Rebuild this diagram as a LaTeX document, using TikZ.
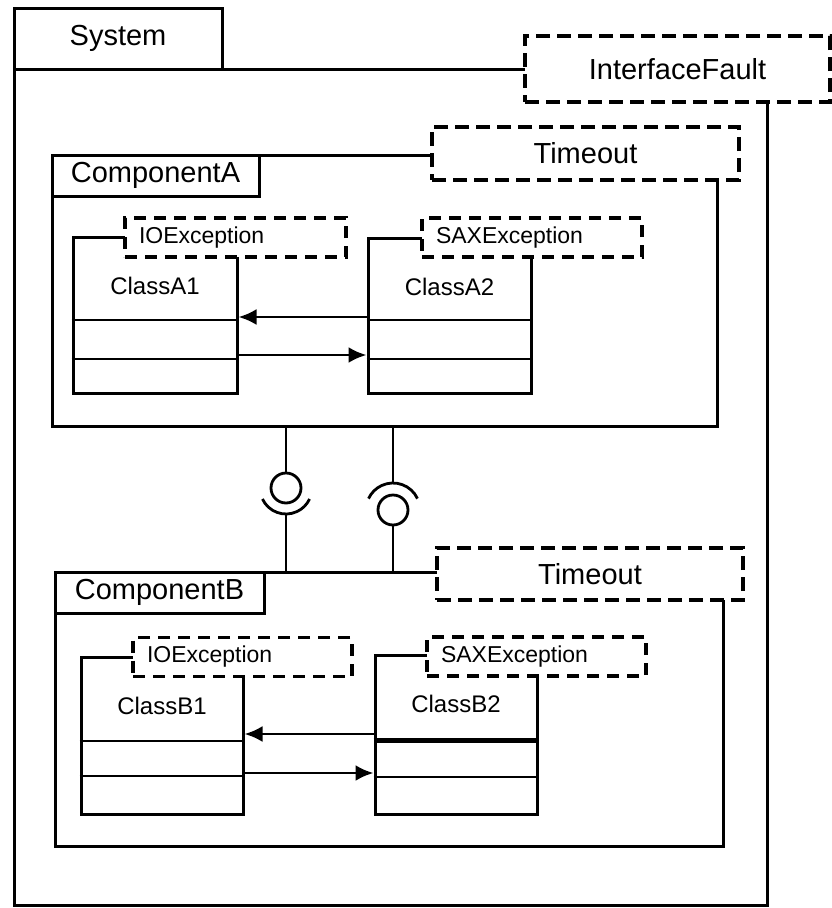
\documentclass[tikz,border=0pt]{standalone}
\usepackage{fontspec}
\setmainfont{Liberation Sans}
\usetikzlibrary{arrows.meta}

\begin{document}
\begin{tikzpicture}[x=1pt,y=1pt,
		caja/.style={draw,line width=3pt,inner sep=0pt},
		pestana/.style={draw,line width=3pt,inner sep=0pt,font=\fontsize{29}{34}\selectfont},
		falla/.style={draw,fill=white,line width=4.6pt,dash pattern=on 14pt off 7pt,inner sep=0pt,font=\fontsize{29}{34}\selectfont},
		excep/.style={draw,fill=white,line width=3.8pt,dash pattern=on 12pt off 8pt,inner xsep=14pt,inner ysep=0pt,text width=#1,align=left,minimum height=39pt,font=\fontsize{23}{27}\selectfont},
		nombre/.style={font=\fontsize{24}{28}\selectfont},
		linea/.style={line width=2.8pt},
		flecha/.style={line width=2.8pt,-{Latex[length=18pt,width=16pt]}},
		bola/.style={draw,circle,line width=2.8pt,minimum size=30pt,inner sep=0pt}]
				\useasboundingbox (0,0) rectangle (832,-908);
				% Sistema
				\node[caja,minimum width=753pt,minimum height=836pt] (sistema) at (390.5,-487) {};
				\node[pestana,minimum width=208pt,minimum height=61pt] (tabSis) at (118,-38.5) {System};
				\node[falla,minimum width=305pt,minimum height=66pt] (ifault) at (677.5,-69) {InterfaceFault};

				% Componente A
				\node[caja,minimum width=665pt,minimum height=271pt] (compA) at (384.5,-290.5) {};
				\node[pestana,minimum width=207pt,minimum height=41pt] (tabA) at (155.5,-175.5) {ComponentA};
				\node[falla,minimum width=307pt,minimum height=53pt,line width=4pt] (toutA) at (585.5,-153.5) {Timeout};

				\node[caja,minimum width=164pt,minimum height=156pt] (claseA1) at (155,-315) {};
				\node[caja,minimum width=163pt,minimum height=155pt] (claseA2) at (449.5,-315.5) {};
				\node[excep=193pt] (excA1) at (235.5,-237.5) {IOException};
				\node[excep=192pt] (excA2) at (532,-237.5) {SAXException};
				\node[nombre] (nomA1) at ([yshift=-50pt]claseA1.north) {ClassA1};
				\node[nombre] (nomA2) at ([yshift=-50pt]claseA2.north) {ClassA2};

				\draw[linea] (claseA1.west |- 0,-320) -- (claseA1.east |- 0,-320);
				\draw[linea] (claseA1.west |- 0,-359) -- (claseA1.east |- 0,-359);
				\draw[linea] (claseA2.west |- 0,-320) -- (claseA2.east |- 0,-320);
				\draw[linea] (claseA2.west |- 0,-359) -- (claseA2.east |- 0,-359);

				\draw[flecha] (claseA2.west |- 0,-317) -- (claseA1.east |- 0,-317);
				\draw[flecha] (claseA1.east |- 0,-355) -- (claseA2.west |- 0,-355);

				% Interfaces
				\node[bola] (bolaI) at (286,-488) {};
				\node[bola] (bolaD) at (393,-510) {};
				\coordinate (socI) at ([yshift=-26pt]bolaI.center);
				\coordinate (socD) at ([yshift=27pt]bolaD.center);
				\draw[linea] ([shift={(205:26pt)}]bolaI.center) arc[start angle=205,end angle=335,radius=26pt];
				\draw[linea] ([shift={(25:27pt)}]bolaD.center) arc[start angle=25,end angle=155,radius=27pt];

				% Componente B
				\node[caja,minimum width=668pt,minimum height=274pt] (compB) at (389,-709) {};
				\node[pestana,minimum width=209pt,minimum height=41pt] (tabB) at (159.5,-592.5) {ComponentB};
				\node[falla,minimum width=306pt,minimum height=52pt,line width=4pt] (toutB) at (590,-574) {Timeout};

				\draw[linea] (bolaI.north |- compA.south) -- (bolaI.north);
				\draw[linea] (socI) -- (socI |- compB.north);
				\draw[linea] (socD |- compA.south) -- (socD);
				\draw[linea] (bolaD.south) -- (bolaD.south |- compB.north);

				\node[caja,minimum width=162pt,minimum height=157pt] (claseB1) at (162,-735.5) {};
				\node[caja,minimum width=162pt,minimum height=159pt] (claseB2) at (456,-734.5) {};
				\node[excep=191pt] (excB1) at (242.5,-657) {IOException};
				\node[excep=191pt] (excB2) at (536.5,-656.5) {SAXException};
				\node[nombre] (nomB1) at ([yshift=-50pt]claseB1.north) {ClassB1};
				\node[nombre] (nomB2) at ([yshift=-50pt]claseB2.north) {ClassB2};

				\draw[linea] (claseB1.west |- 0,-741) -- (claseB1.east |- 0,-741);
				\draw[linea] (claseB1.west |- 0,-776) -- (claseB1.east |- 0,-776);
				\draw[line width=5pt] (claseB2.west |- 0,-740) -- (claseB2.east |- 0,-740);
				\draw[linea] (claseB2.west |- 0,-777) -- (claseB2.east |- 0,-777);

				\draw[flecha] (claseB2.west |- 0,-734) -- (claseB1.east |- 0,-734);
				\draw[flecha] (claseB1.east |- 0,-773) -- (claseB2.west |- 0,-773);

			\end{tikzpicture}
\end{document}
